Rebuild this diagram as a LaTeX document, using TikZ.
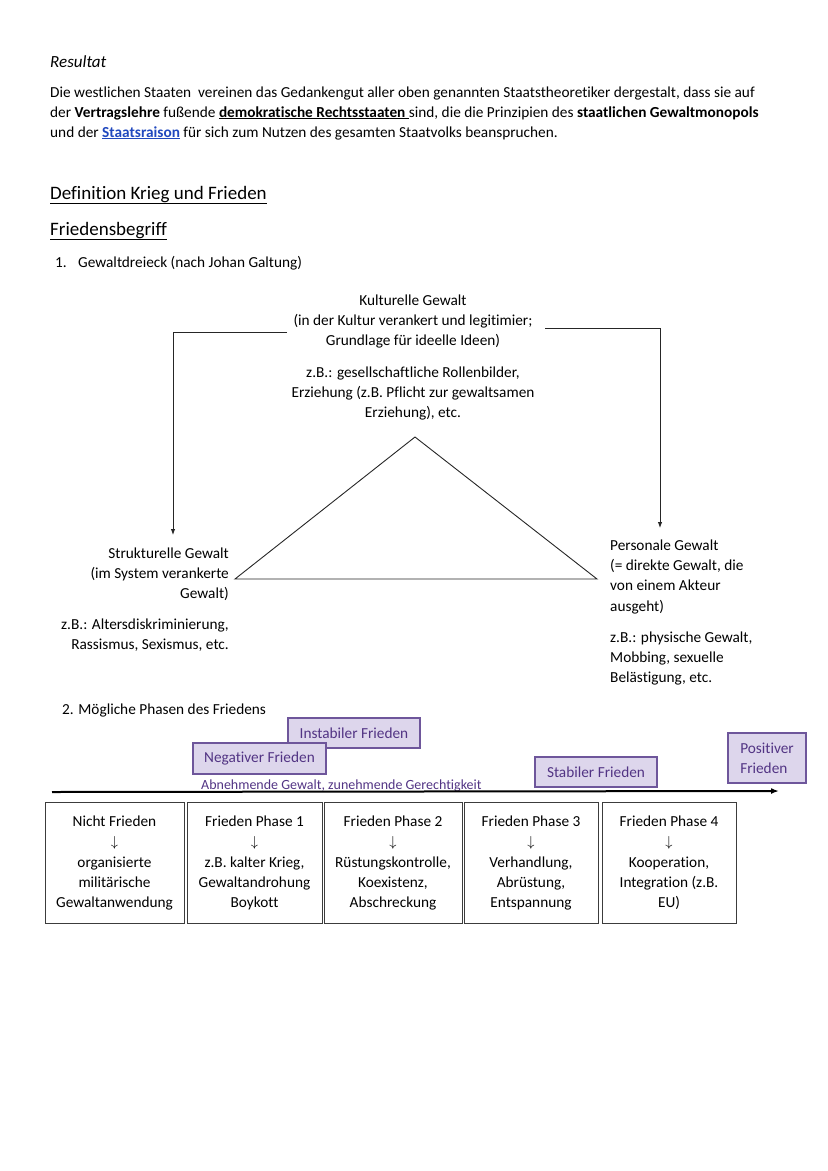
\documentclass[tikz,border=0pt]{standalone}
\usepackage{fontspec}
\setmainfont{Carlito}[Ligatures=NoCommon]
\usetikzlibrary{positioning,arrows.meta}
\definecolor{lavfill}{RGB}{221,214,236}
\definecolor{lavdraw}{RGB}{110,86,155}
\definecolor{lavtext}{RGB}{82,52,132}
\definecolor{linkblue}{RGB}{32,72,190}
\definecolor{boxgray}{RGB}{60,60,60}

\begin{document}
\begin{tikzpicture}[x=1pt,y=-1pt,
  every node/.style={font=\fontsize{15.3}{20.3}\selectfont, inner sep=0pt},
  bodyline/.style={anchor=base west},
  heading/.style={anchor=base west, font=\fontsize{19}{24}\selectfont},
  peacebox/.style={draw=lavdraw, fill=lavfill, text=lavtext, line width=1.3pt},
  phasebox/.style={draw=boxgray, line width=1pt, outer sep=0pt, align=center, minimum height=121pt},
  thinline/.style={line width=0.9pt, black!85}]
  \useasboundingbox (0,0) rectangle (828,1171);

  % Resultat
  \node[bodyline, font=\fontsize{17}{20}\selectfont\itshape] (resultat) at (50,67) {Resultat};
  \node[bodyline] (par1) at (50,97) {Die westlichen Staaten\ \ vereinen das Gedankengut aller oben genannten Staatstheoretiker dergestalt, dass sie auf};
  \node[bodyline] (par2) at (50,117) {der \textbf{Vertragslehre} fußende \underline{\textbf{demokratische Rechtsstaaten }}sind, die die Prinzipien des \textbf{staatlichen Gewaltmonopols}};
  \node[bodyline] (par3) at (50,137) {und der \textcolor{linkblue}{\underline{\textbf{Staatsraison}}} für sich zum Nutzen des gesamten Staatvolks beanspruchen.};

  % headings
  \node[heading] (defin) at (50,199) {\underline{Definition Krieg und Frieden}};
  \node[heading] (begriff) at (50,235) {\underline{Friedensbegriff}};
  \node[bodyline] (eins) at (55,267) {1.};
  \node[bodyline] (dreieck) at (78,267) {Gewaltdreieck (nach Johan Galtung)};

  % Gewaltdreieck
  \node[align=center, anchor=north] (kultur) at (413,294.5) {Kulturelle Gewalt\\(in der Kultur verankert und legitimier;\\Grundlage für ideelle Ideen)};
  \node[align=center, anchor=north] (kulturbsp) at (413,366.5) {z.B.: gesellschaftliche Rollenbilder,\\Erziehung (z.B. Pflicht zur gewaltsamen\\Erziehung), etc.};
  \node[align=right, anchor=north east] (struktur) at (229,547.5) {Strukturelle Gewalt\\(im System verankerte\\Gewalt)};
  \node[align=right, anchor=north east] (strukturbsp) at (229,618.5) {z.B.: Altersdiskriminierung,\\Rassismus, Sexismus, etc.};
  \node[align=left, anchor=north west] (personal) at (610,539.5) {Personale Gewalt\\(= direkte Gewalt, die\\von einem Akteur\\ausgeht)};
  \node[align=left, anchor=north west] (personalbsp) at (610,631.5) {z.B.: physische Gewalt,\\Mobbing, sexuelle\\Belästigung, etc.};

  \coordinate (triTop) at (415,437);
  \coordinate (triL) at (235,579);
  \coordinate (triR) at (597,579);
  \draw[thinline, line join=miter] (triTop) -- (triL) -- (triR) -- cycle;

  \coordinate (kultL) at (287,332);
  \coordinate (kultR) at (545,328);
  \coordinate (strukTop) at (173,535);
  \coordinate (persTop) at (660,528);
  \draw[thinline, -{Latex[length=6pt,width=4.5pt]}] (kultL) -| (strukTop);
  \draw[thinline, -{Latex[length=6pt,width=4.5pt]}] (kultR) -| (persTop);

  % Phasen des Friedens
  \node[bodyline] (zwei) at (62,714) {2. Mögliche Phasen des Friedens};
  \node[peacebox, minimum width=132pt, minimum height=30pt] (instabil) at (354,733) {Instabiler Frieden};
  \node[peacebox, minimum width=133pt, minimum height=31pt] (negativ) at (259.5,758.5) {Negativer Frieden};
  \node[peacebox, minimum width=122pt, minimum height=30pt] (stabil) at (596,772) {Stabiler Frieden};
  \node[peacebox, minimum width=78pt, minimum height=50pt, align=left] (positiv) at (767,758) {Positiver\\Frieden};
  \node[bodyline, text=lavtext, font=\fontsize{14}{17}\selectfont] (abnehmend) at (201,789.5) {Abnehmende Gewalt, zunehmende Gerechtigkeit};

  \coordinate (skalaL) at (52,792);
  \coordinate (skalaR) at (779,791);
  \draw[line width=2pt, -{Latex[length=8pt,width=6pt]}] (skalaL) -- (skalaR);

  \node[phasebox, minimum width=139pt] (nicht) at (114.5,863) {Nicht Frieden\\$\downarrow$\\organisierte\\militärische\\Gewaltanwendung};
  \node[phasebox, minimum width=135pt] (phase1) [right=3pt of nicht] {Frieden Phase 1\\$\downarrow$\\z.B. kalter Krieg,\\Gewaltandrohung\\Boykott};
  \node[phasebox, minimum width=138pt] (phase2) [right=2pt of phase1] {Frieden Phase 2\\$\downarrow$\\Rüstungskontrolle,\\Koexistenz,\\Abschreckung};
  \node[phasebox, minimum width=134pt] (phase3) [right=2pt of phase2] {Frieden Phase 3\\$\downarrow$\\Verhandlung,\\Abrüstung,\\Entspannung};
  \node[phasebox, minimum width=134pt] (phase4) [right=4pt of phase3] {Frieden Phase 4\\$\downarrow$\\Kooperation,\\Integration (z.B.\\EU)};
\end{tikzpicture}
\end{document}
